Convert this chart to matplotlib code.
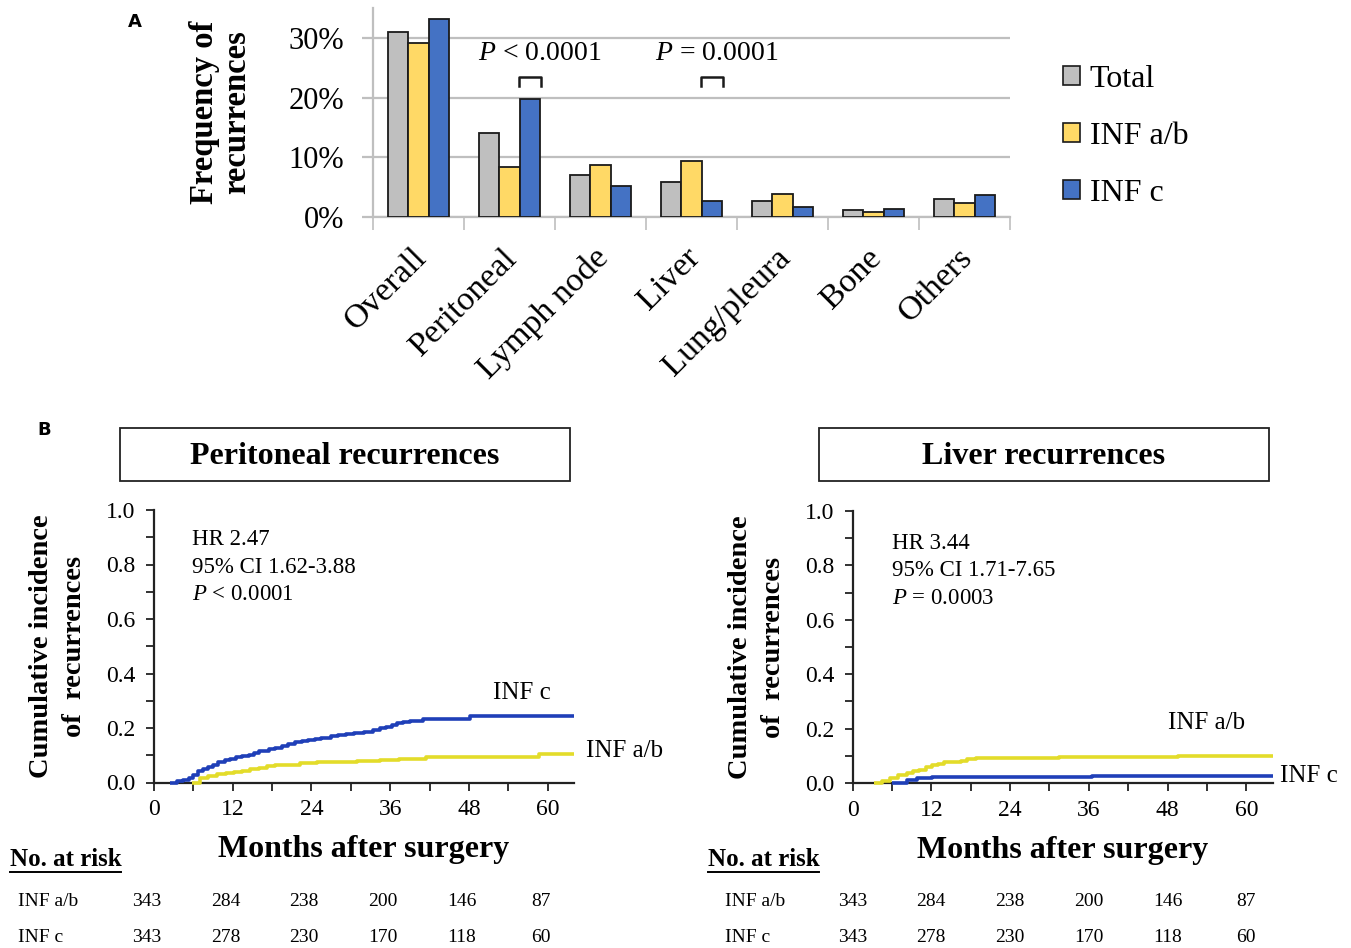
import matplotlib
matplotlib.use("Agg")
import matplotlib.pyplot as plt
from matplotlib.patches import Rectangle, Patch
from matplotlib.lines import Line2D
from matplotlib.ticker import MultipleLocator, FixedLocator, FuncFormatter

# ---------------- data ----------------
sites = ["Overall", "Peritoneal", "Lymph node", "Liver", "Lung/pleura", "Bone", "Others"]
freq_total = [31.0, 14.1, 7.0, 5.9, 2.7, 1.1, 3.0]
freq_inf_ab = [29.1, 8.3, 8.7, 9.3, 3.8, 0.8, 2.3]
freq_inf_c = [33.1, 19.7, 5.2, 2.6, 1.6, 1.4, 3.7]
group_names = ["Total", "INF a/b", "INF c"]

# cumulative incidence, peritoneal recurrence (months, proportion)
peri_c_t = [2.5, 3.5, 4.5, 5.3, 6.0, 6.7, 7.5, 8.3, 9.0, 9.8, 10.8, 11.6, 12.5, 13.5, 14.5,
            15.3, 16.0, 17.5, 18.5, 19.5, 20.5, 21.5, 22.5, 23.5, 24.5, 25.5, 27.0, 28.0,
            29.3, 30.5, 32.0, 33.4, 34.4, 35.4, 36.2, 37.0, 38.0, 39.0, 41.0, 48.2, 64.0]
peri_c_v = [0.000, 0.004, 0.010, 0.018, 0.026, 0.042, 0.049, 0.056, 0.066, 0.075, 0.083, 0.088,
            0.093, 0.097, 0.100, 0.110, 0.117, 0.123, 0.128, 0.135, 0.141, 0.147, 0.152, 0.156,
            0.160, 0.165, 0.169, 0.174, 0.178, 0.183, 0.186, 0.193, 0.199, 0.205, 0.211, 0.217,
            0.221, 0.225, 0.234, 0.243, 0.243]
peri_ab_t = [5.8, 7.0, 8.3, 9.6, 11.0, 12.2, 13.5, 14.7, 16.0, 17.3, 18.5, 19.8, 22.3, 24.8,
             27.9, 30.9, 32.6, 34.4, 37.4, 41.5, 58.6, 64.0]
peri_ab_v = [0.000, 0.017, 0.024, 0.030, 0.034, 0.038, 0.043, 0.048, 0.054, 0.059, 0.063, 0.066,
             0.071, 0.075, 0.077, 0.079, 0.080, 0.082, 0.086, 0.092, 0.103, 0.103]

# cumulative incidence, liver recurrence
liver_ab_t = [3.2, 4.5, 5.7, 7.0, 8.3, 9.2, 10.2, 11.2, 12.1, 13.0, 14.0, 16.5, 17.5, 18.8, 31.5, 49.6, 64.0]
liver_ab_v = [0.000, 0.008, 0.018, 0.028, 0.037, 0.043, 0.049, 0.057, 0.065, 0.071, 0.077, 0.082,
              0.087, 0.092, 0.095, 0.101, 0.101]
liver_c_t = [6.0, 8.3, 9.9, 12.1, 36.5, 64.0]
liver_c_v = [0.000, 0.012, 0.018, 0.022, 0.027, 0.027]

peri_stats = ["HR 2.47", "95% CI 1.62-3.88", "$P$ < 0.0001"]
liver_stats = ["HR 3.44", "95% CI 1.71-7.65", "$P$ = 0.0003"]

risk_times = [0, 12, 24, 36, 48, 60]
risk_ab = [343, 284, 238, 200, 146, 87]
risk_c = [343, 278, 230, 170, 118, 60]

# ---------------- style ----------------
plt.rcParams["font.family"] = ["Liberation Serif", "DejaVu Serif"]
plt.rcParams["mathtext.fontset"] = "custom"
plt.rcParams["mathtext.rm"] = "Liberation Serif"
plt.rcParams["mathtext.it"] = "Liberation Serif:italic"

W, H = 1351, 948
fig = plt.figure(figsize=(W / 100, H / 100), dpi=100)


def box(x0, y0, x1, y1):
    """Figure-fraction rectangle from pixel edges (top-left origin)."""
    return [x0 / W, 1 - y1 / H, (x1 - x0) / W, (y1 - y0) / H]


def fx(x):
    return x / W


def fy(y):
    return 1 - y / H


C_GRAY, C_YEL, C_BLUE = "#BFBFBF", "#FFD966", "#4472C4"
GRID = "#BFBFBF"

# ---------------- panel A ----------------
axA = fig.add_axes(box(373, 8, 1010, 217))
bw = 0.22
xs = list(range(len(sites)))
for off, vals, col in zip([-bw, 0, bw], [freq_total, freq_inf_ab, freq_inf_c],
                          [C_GRAY, C_YEL, C_BLUE]):
    axA.bar([x + off for x in xs], vals, width=bw, color=col, edgecolor="#1a1a1a",
            linewidth=1.3, zorder=3)
axA.set_xlim(-0.5, len(sites) - 0.5)
axA.set_ylim(0, 35)
axA.yaxis.set_major_locator(FixedLocator([0, 10, 20, 30]))
axA.yaxis.set_major_formatter(FuncFormatter(lambda v, p: f"{v:.0f}%"))
axA.grid(axis="y", color=GRID, linewidth=1.6, zorder=0)
axA.xaxis.set_major_locator(FixedLocator([i + 0.5 for i in range(-1, len(sites))]))
axA.set_xticklabels([])
axA.tick_params(axis="x", length=9, width=1.2, color=GRID, direction="out")
axA.tick_params(axis="y", length=8, width=1.6, color=GRID, labelsize=22, pad=13)
for s in ["top", "right"]:
    axA.spines[s].set_visible(False)
for s in ["left", "bottom"]:
    axA.spines[s].set_color(GRID)
    axA.spines[s].set_linewidth(1.6)
for i, name in enumerate(sites):
    axA.text(i - 0.08, -4.3, name, rotation=45, ha="right", va="top",
             rotation_mode="anchor", fontsize=24.5)
axA.set_ylabel("Frequency of\nrecurrences", fontsize=23.5, fontweight="bold",
               linespacing=1.05, labelpad=26)

# significance brackets
for cat, shift, label in [(1, 0.335, "$P$ < 0.0001"), (3, 0.275, "$P$ = 0.0001")]:
    x0, x1 = cat + 0.105, cat + 0.345
    axA.plot([x0, x0, x1, x1], [21.9, 23.4, 23.4, 21.9], color="#1a1a1a", lw=1.8,
             clip_on=False, zorder=4)
    axA.text(cat + shift, 27.4, label, ha="center", va="center", fontsize=20)

legend_handles = [Patch(facecolor=c, edgecolor="#1a1a1a", linewidth=1.2)
                  for c in [C_GRAY, C_YEL, C_BLUE]]
fig.legend(legend_handles, group_names, loc="upper left",
           bbox_to_anchor=(fx(1050), fy(52)), frameon=False, fontsize=23,
           handlelength=0.55, handleheight=0.55, handletextpad=0.3,
           labelspacing=0.88, borderaxespad=0)

fig.text(fx(135), fy(22), "A", fontsize=13, fontweight="bold", family="DejaVu Sans",
         ha="center", va="center")
fig.text(fx(44), fy(430), "B", fontsize=13, fontweight="bold", family="DejaVu Sans",
         ha="center", va="center")

# ---------------- panel B ----------------
KM_BLUE = "#1f3fb8"
KM_YEL = "#e3dc2a"


def km_axes(rect):
    ax = fig.add_axes(rect)
    ax.set_xlim(0, 64)
    ax.set_ylim(0, 1.0)
    for s in ["top", "right"]:
        ax.spines[s].set_visible(False)
    for s in ["left", "bottom"]:
        ax.spines[s].set_linewidth(1.6)
        ax.spines[s].set_color("#222222")
    ax.xaxis.set_major_locator(MultipleLocator(12))
    ax.xaxis.set_minor_locator(FixedLocator([6, 18, 30, 42, 54]))
    ax.yaxis.set_major_locator(MultipleLocator(0.2))
    ax.yaxis.set_minor_locator(MultipleLocator(0.1))
    ax.yaxis.set_major_formatter(FuncFormatter(lambda v, p: f"{v:.1f}"))
    ax.tick_params(which="both", length=6, width=1.3, direction="out", labelsize=17,
                   color="#222222")
    ax.tick_params(axis="y", pad=7)
    ax.tick_params(axis="x", pad=6)
    ax.set_xlabel("Months after surgery", fontsize=23, fontweight="bold", labelpad=11)
    ax.set_ylabel("Cumulative incidence\nof  recurrences", fontsize=20.5,
                  fontweight="bold", linespacing=1.4, labelpad=14)
    return ax


def km_title(x0, x1, title):
    fig.add_artist(Rectangle((fx(x0), fy(481)), (x1 - x0) / W, 53 / H,
                             transform=fig.transFigure, fill=False,
                             edgecolor="#222222", linewidth=1.3))
    fig.text(fx((x0 + x1) / 2), fy(456), title, ha="center", va="center",
             fontsize=23, fontweight="bold")


def km_curve(ax, t, v, color):
    ax.step(t, v, where="post", color=color, lw=2.6, clip_on=False, zorder=5,
            solid_capstyle="butt")


def risk_table(ax, x_label, x_head, shift):
    y_head, y1, y2 = 860, 902, 938
    fig.text(fx(x_head), fy(y_head), "No. at risk", fontsize=18,
             fontweight="bold", ha="left", va="center")
    fig.add_artist(Line2D([fx(x_head), fx(x_head + 111)], [fy(y_head + 12), fy(y_head + 12)],
                          transform=fig.transFigure, color="black", lw=1.4))
    for yy, name, counts in [(y1, "INF a/b", risk_ab), (y2, "INF c", risk_c)]:
        fig.text(fx(x_label), fy(yy), name, fontsize=14, ha="left", va="center")
        for tm, n in zip(risk_times, counts):
            xd = ax.transData.transform((tm + shift, 0))[0]
            fig.text(xd / W, fy(yy), str(n), fontsize=14, ha="center", va="center")


# peritoneal
axL = km_axes(box(153.7, 510, 574.2, 782.5))
km_title(120, 570, "Peritoneal recurrences")
km_curve(axL, peri_ab_t, peri_ab_v, KM_YEL)
km_curve(axL, peri_c_t, peri_c_v, KM_BLUE)
for k, s in enumerate(peri_stats):
    axL.text(5.8, 0.89 - k * 0.1, s, fontsize=16.5, ha="left", va="center")
axL.text(56.0, 0.33, "INF c", fontsize=18, ha="center", va="center")
axL.text(65.8, 0.115, "INF a/b", fontsize=18, ha="left", va="center", clip_on=False)

# liver
axR = km_axes(box(852.5, 511, 1272.5, 783))
km_title(819, 1269, "Liver recurrences")
km_curve(axR, liver_ab_t, liver_ab_v, KM_YEL)
km_curve(axR, liver_c_t, liver_c_v, KM_BLUE)
for k, s in enumerate(liver_stats):
    axR.text(6.0, 0.88 - k * 0.1, s, fontsize=16.5, ha="left", va="center")
axR.text(53.9, 0.22, "INF a/b", fontsize=18, ha="center", va="center")
axR.text(65.2, 0.025, "INF c", fontsize=18, ha="left", va="center", clip_on=False)

fig.canvas.draw()
risk_table(axL, 18, 10, -1.1)
risk_table(axR, 725, 708, 0.0)

fig.savefig("out.png", dpi=100)
